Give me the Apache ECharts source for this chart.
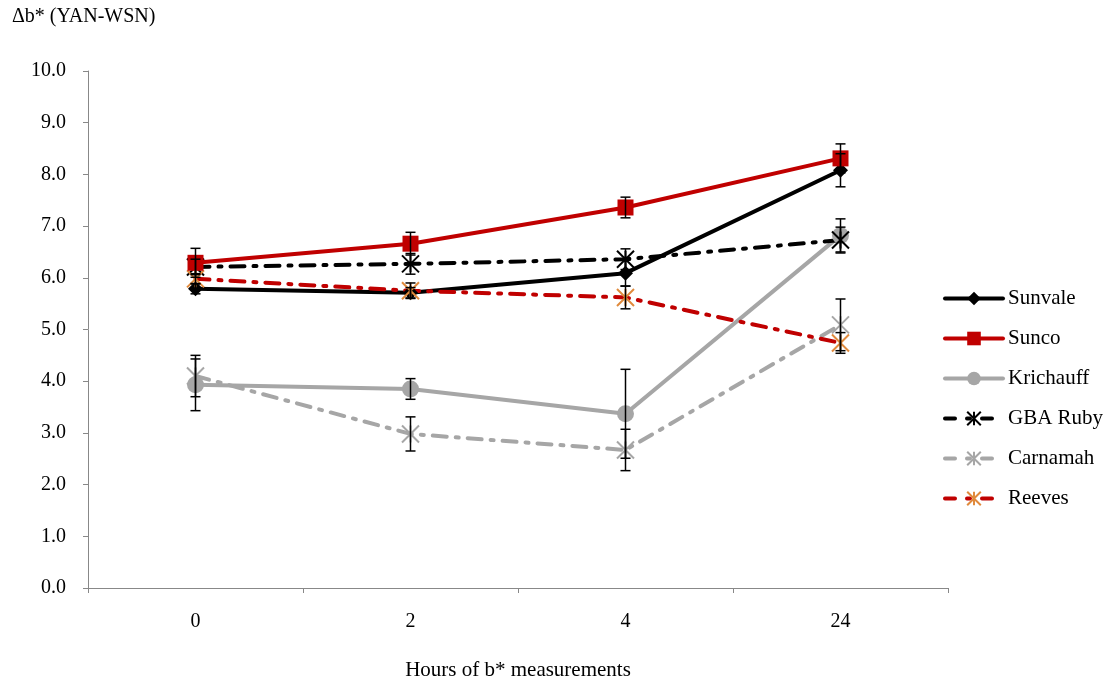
<!DOCTYPE html>
<html><head><meta charset="utf-8">
<script src="https://cdn.jsdelivr.net/npm/echarts@6/dist/echarts.min.js"></script>
<style>html,body{margin:0;padding:0;background:#fff}#c{width:1114px;height:681px}</style>
</head><body><div id="c"></div>
<script>
const categories = ['0', '2', '4', '24'];
const sunvale = [5.79, 5.71, 6.09, 8.08];
const sunco = [6.29, 6.66, 7.36, 8.31];
const krichauff = [3.93, 3.85, 3.37, 6.82];
const gbaRuby = [6.21, 6.27, 6.36, 6.73];
const carnamah = [4.10, 2.98, 2.67, 5.09];
const reeves = [5.98, 5.75, 5.62, 4.74];
const sunvaleErr = [0.10, 0.10, 0.25, 0.32];
const suncoErr = [0.28, 0.22, 0.20, 0.28];
const krichauffErr = [0.50, 0.20, 0.86, 0.32];
const gbaRubyErr = [0.15, 0.20, 0.20, 0.25];
const carnamahErr = [0.40, 0.33, 0.40, 0.50];
const reevesErr = [0.10, 0.15, 0.22, 0.20];

const FONT = '"Liberation Serif", "DejaVu Serif", serif';
const star = 'path://M0,0L10,10M10,0L0,10M5,0L5,10';

function errData(vals, errs) {
  return vals.map((v, i) => [i, v - errs[i], v + errs[i]]);
}
const allErr = [].concat(
  errData(sunvale, sunvaleErr), errData(sunco, suncoErr), errData(krichauff, krichauffErr),
  errData(gbaRuby, gbaRubyErr), errData(carnamah, carnamahErr), errData(reeves, reevesErr));

const chart = echarts.init(document.getElementById('c'), null, {renderer: 'canvas'});
const dashDot = [14, 9, 3, 9];
const legendLine = (c, t) => ({color: c, width: 4, type: t || 'solid', cap: 'round'});
chart.setOption({
  animation: false,
  backgroundColor: '#fff',
  textStyle: {fontFamily: FONT},
  graphic: [{type: 'text', left: 12, top: 7, style: {text: 'Δb* (YAN-WSN)', font: '20px ' + FONT, fill: '#000'}}],
  grid: {left: 88, right: 166, top: 71, bottom: 93, outerBoundsMode: 'none', containLabel: false},
  legend: {
    orient: 'vertical', left: 938, top: 283, itemGap: 19, itemWidth: 58, itemHeight: 17,
    textStyle: {fontFamily: FONT, fontSize: 21, color: '#000'},
    data: [
      {name: 'Sunvale', lineStyle: legendLine('#000')},
      {name: 'Sunco', lineStyle: legendLine('#c00000')},
      {name: 'Krichauff', lineStyle: legendLine('#a6a6a6')},
      {name: 'GBA Ruby', lineStyle: legendLine('#000', [10, 12, 3, 12])},
      {name: 'Carnamah', lineStyle: legendLine('#a6a6a6', [10, 12, 3, 12])},
      {name: 'Reeves', lineStyle: legendLine('#c00000', [10, 12, 3, 12])}
    ]
  },
  xAxis: {
    type: 'category', data: categories, boundaryGap: true,
    name: 'Hours of b* measurements', nameLocation: 'middle', nameGap: 72,
    nameTextStyle: {fontFamily: FONT, fontSize: 21, color: '#000'},
    axisLine: {lineStyle: {color: '#888', width: 1}},
    axisTick: {show: true, length: 5, inside: false, alignWithLabel: false, lineStyle: {color: '#888'}},
    axisLabel: {margin: 24, fontFamily: FONT, fontSize: 20, color: '#000'}
  },
  yAxis: {
    type: 'value', min: 0, max: 10, interval: 1,
    axisLine: {show: true, lineStyle: {color: '#888', width: 1}},
    axisTick: {show: true, length: 5, lineStyle: {color: '#888'}},
    splitLine: {show: false},
    axisLabel: {margin: 22, fontFamily: FONT, fontSize: 20, color: '#000', formatter: v => v.toFixed(1)}
  },
  series: [
    {name: 'Sunvale', type: 'line', data: sunvale, symbol: 'diamond', symbolSize: 15,
      itemStyle: {color: '#000'}, lineStyle: {color: '#000', width: 4}, z: 3},
    {name: 'Sunco', type: 'line', data: sunco, symbol: 'rect', symbolSize: 16,
      itemStyle: {color: '#c00000'}, lineStyle: {color: '#c00000', width: 4}, z: 4},
    {name: 'Krichauff', type: 'line', data: krichauff, symbol: 'circle', symbolSize: 17,
      itemStyle: {color: '#a6a6a6'}, lineStyle: {color: '#a6a6a6', width: 4}, z: 3},
    {name: 'GBA Ruby', type: 'line', data: gbaRuby, symbol: star, symbolSize: 17,
      itemStyle: {color: 'rgba(0,0,0,0)', borderColor: '#000', borderWidth: 2},
      lineStyle: {color: '#000', width: 4, type: dashDot, cap: 'round'}, z: 3},
    {name: 'Carnamah', type: 'line', data: carnamah, symbol: star, symbolSize: 17,
      itemStyle: {color: 'rgba(0,0,0,0)', borderColor: '#a6a6a6', borderWidth: 2},
      lineStyle: {color: '#a6a6a6', width: 4, type: dashDot, cap: 'round'}, z: 3},
    {name: 'Reeves', type: 'line', data: reeves, symbol: star, symbolSize: 17,
      itemStyle: {color: 'rgba(0,0,0,0)', borderColor: '#e08a3c', borderWidth: 2},
      lineStyle: {color: '#c00000', width: 4, type: dashDot, cap: 'round'}, z: 3},
    {name: 'err', type: 'custom', data: allErr, z: 10, silent: true,
      renderItem: function (params, api) {
        const lo = api.coord([api.value(0), api.value(1)]);
        const hi = api.coord([api.value(0), api.value(2)]);
        const w = 5;
        const st = {stroke: '#000', lineWidth: 1.5};
        return {type: 'group', children: [
          {type: 'line', shape: {x1: lo[0], y1: lo[1], x2: hi[0], y2: hi[1]}, style: st},
          {type: 'line', shape: {x1: lo[0] - w, y1: lo[1], x2: lo[0] + w, y2: lo[1]}, style: st},
          {type: 'line', shape: {x1: hi[0] - w, y1: hi[1], x2: hi[0] + w, y2: hi[1]}, style: st}
        ]};
      }}
  ]
});
</script></body></html>
